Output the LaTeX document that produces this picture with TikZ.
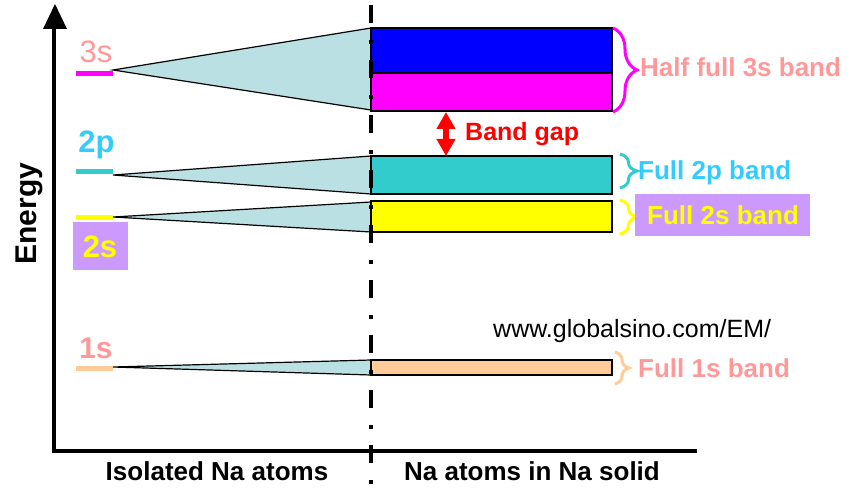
\documentclass[tikz,border=0pt]{standalone}
\usepackage{fontspec}
\setmainfont{Liberation Sans}
\usetikzlibrary{decorations.pathreplacing,arrows.meta}
\definecolor{tri}{RGB}{187,224,227}
\definecolor{tealband}{RGB}{51,204,204}
\definecolor{cyanlbl}{RGB}{51,204,255}
\definecolor{pinklbl}{RGB}{255,153,153}
\definecolor{peach}{RGB}{255,204,153}
\definecolor{lav}{RGB}{204,153,255}
\definecolor{yel}{RGB}{255,255,0}
\definecolor{mag}{RGB}{255,0,255}
\definecolor{blu}{RGB}{0,0,255}
\definecolor{redc}{RGB}{255,0,0}
\tikzset{
  fan/.style={fill=tri,draw=black,line width=1.2pt,line join=miter},
  bandbox/.style={draw=black,line width=1.4pt},
  level/.style={line width=5pt},
  axisline/.style={line width=4pt,black},
  bracemark/.style={line width=3pt,decorate,decoration={brace,amplitude=#1}},
  lbl/.style={inner sep=0pt,anchor=base},
  bandlbl/.style={inner sep=0pt,anchor=base west,font=\fontsize{26}{30}\selectfont\bfseries},
}
\begin{document}
\begin{tikzpicture}[x=1pt,y=-1pt]
\useasboundingbox (0,0) rectangle (854,500);
% axes
\coordinate (origin) at (54,451);
\coordinate (ytop) at (54,29);
\coordinate (xend) at (697,451);
\draw[axisline] (54,453) -- (ytop);
\fill[black] (43,29) -- (55,4) -- (67,29) -- cycle;
\draw[axisline] (52,451) -- (xend);
% fans (triangles)
\draw[fan] (113,70) -- (371,28) -- (371,110) -- cycle;
\draw[fan] (113,175) -- (371,156) -- (371,194) -- cycle;
\draw[fan] (113,217) -- (371,202) -- (371,232) -- cycle;
\draw[fan] (113,367) -- (371,360) -- (371,375) -- cycle;
% bands
\filldraw[bandbox,fill=blu] (371,28) rectangle (612,73);
\filldraw[bandbox,fill=mag] (371,73) rectangle (612,111);
\filldraw[bandbox,fill=tealband] (371,156) rectangle (612,194);
\filldraw[bandbox,fill=yel] (371,201) rectangle (612,232);
\filldraw[bandbox,fill=peach] (371,360) rectangle (612,375);
% levels
\draw[level,mag] (76,73.5) -- (113,73.5);
\draw[level,tealband] (76,171) -- (113,171);
\draw[level,yel] (76,217) -- (113,217);
\draw[level,peach] (76,368) -- (113,368);
% dashed separator
\draw[line width=4.5pt,dash pattern=on 18pt off 17pt on 4pt off 16pt] (371,5) -- (371,490);
% level labels
\node[lbl,text=pinklbl,font=\fontsize{31}{34}\selectfont] (l3s) at (96,63) {3s};
\node[lbl,text=cyanlbl,font=\fontsize{31}{34}\selectfont\bfseries] (l2p) at (96.5,153) {2p};
\fill[lav] (73,222) rectangle (128,270);
\node[lbl,text=yel,font=\fontsize{31}{34}\selectfont\bfseries] (l2s) at (100,257) {2s};
\node[lbl,text=pinklbl,font=\fontsize{30}{34}\selectfont\bfseries] (l1s) at (96,358) {1s};
% energy label
\node[lbl,rotate=90,font=\fontsize{30}{34}\selectfont\bfseries] (energy) at (36,213.5) {Energy};
% bottom labels
\node[lbl,font=\fontsize{26}{30}\selectfont\bfseries] (iso) at (217,480) {Isolated Na atoms};
\node[lbl,font=\fontsize{26}{30}\selectfont\bfseries] (sol) at (532,480) {Na atoms in Na solid};
% band gap
\coordinate (gtop) at (446,112);
\coordinate (gbot) at (446,156);
\draw[redc,line width=6pt,{Triangle[width=18pt,length=17pt]}-{Triangle[width=18pt,length=17pt]}] (gtop) -- (gbot);
\node[inner sep=0pt,anchor=base west,text=redc,font=\fontsize{25}{30}\selectfont\bfseries] (gap) at (465,141) {Band gap};
% braces
\draw[bracemark=24pt,mag] (613,28) -- (613,112);
\node[bandlbl,text=pinklbl] (h3s) at (640,77) {Half full 3s band};
\draw[bracemark=17pt,tealband] (620,154) -- (620,188);
\node[bandlbl,text=cyanlbl] (f2p) at (638,179) {Full 2p band};
\draw[bracemark=17pt,yel] (620,200) -- (620,234);
\fill[lav] (635,194) rectangle (810,236);
\node[bandlbl,text=yel] (f2s) at (647,224) {Full 2s band};
\draw[bracemark=14pt,peach] (615,352) -- (615,384);
\node[bandlbl,text=pinklbl] (f1s) at (638,377) {Full 1s band};
% url
\node[inner sep=0pt,anchor=base west,font=\fontsize{25}{28}\selectfont] (url) at (493,337) {www.globalsino.com/EM/};
\end{tikzpicture}
\end{document}
